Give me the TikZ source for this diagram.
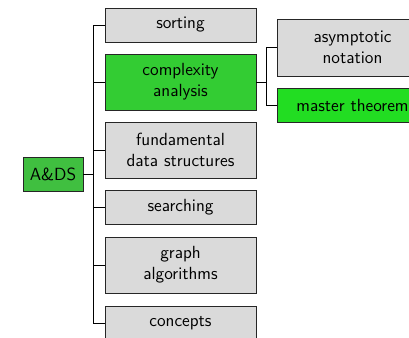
\documentclass[tikz,border=0pt]{standalone}
\begin{document}
\begin{tikzpicture}[x=0.625pt,y=-0.625pt,
  box/.style={draw=black!85, line width=0.6pt, font=\sffamily\fontsize{11}{13.2}\selectfont, align=center, inner sep=0pt, minimum width=151*0.625pt, text width=145*0.625pt},
  grey/.style={box, fill=boxgrey},
  single/.style={minimum height=34*0.625pt},
  double/.style={minimum height=56*0.625pt},
  conn/.style={draw=black, line width=0.6pt}]
\definecolor{boxgrey}{HTML}{DADADA}
\definecolor{rootgreen}{HTML}{40BF40}
\definecolor{midgreen}{HTML}{33CC33}
\definecolor{brightgreen}{HTML}{22DD22}
\useasboundingbox (0,0) rectangle (409,338);
\clip (0,0) rectangle (409,338);
\node[box, fill=rootgreen, minimum width=60*0.625pt, text width=, single] (root) at (53,174) {A\&DS};
\node[grey, single] (sort) at (180.5,25) {sorting};
\node[box, fill=midgreen, double] (cplx) at (180.5,82) {complexity\\analysis};
\node[grey, double] (fund) at (180.5,150) {fundamental\\data structures};
\node[grey, single] (search) at (180.5,207.5) {searching};
\node[grey, double] (graph) at (180.5,265) {graph\\algorithms};
\node[grey, single] (conc) at (180.5,323) {concepts};
\node[grey, minimum height=57*0.625pt] (asym) at (352.5,47.5) {asymptotic\\notation};
\node[box, fill=brightgreen, single] (master) at (352.5,105) {master theorem};
\foreach \c in {sort,cplx,fund,search,graph,conc}
  \draw[conn] (root.east) -- ++(10,0) |- (\c.west);
\foreach \c in {asym,master}
  \draw[conn] (cplx.east) -- ++(10,0) |- (\c.west);
\end{tikzpicture}
\end{document}
